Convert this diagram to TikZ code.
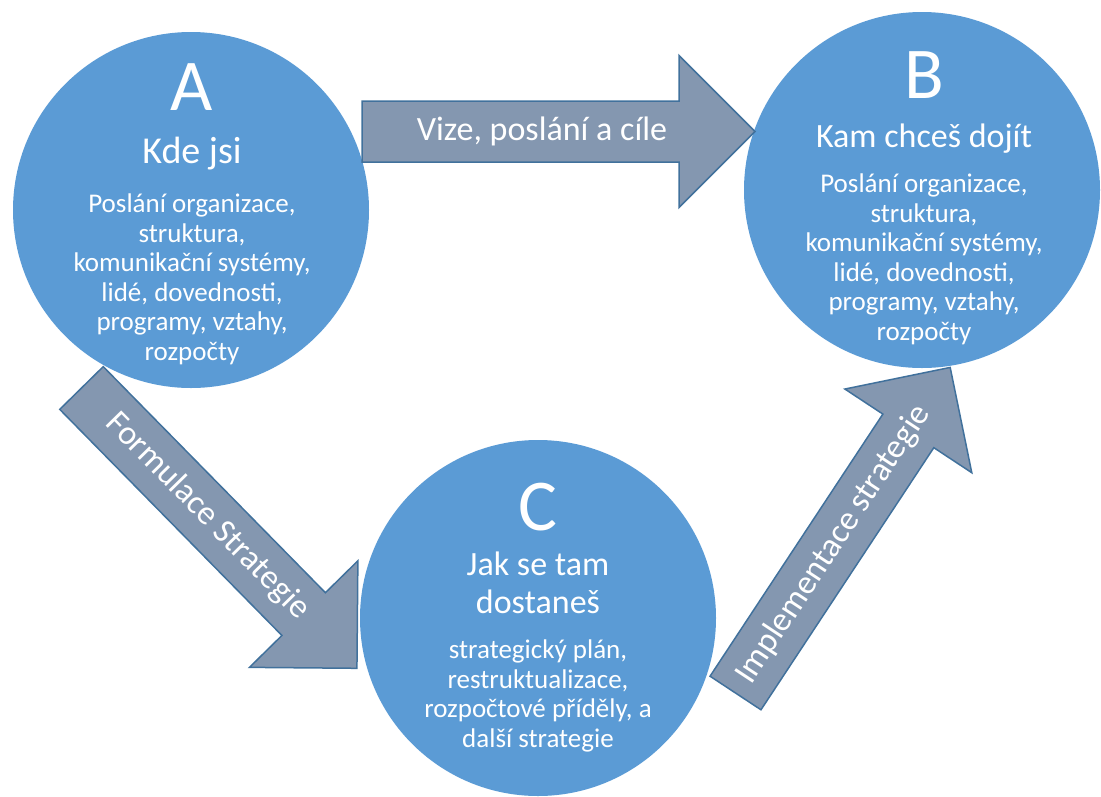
\documentclass[tikz,border=0pt]{standalone}
\usepackage{fontspec}
\setmainfont{Carlito}
\usepackage{tikz}
\usetikzlibrary{calc}
\definecolor{circ}{HTML}{5B9BD5}
\definecolor{arr}{HTML}{8497B0}
\definecolor{arredge}{HTML}{41719C}
\tikzset{
  stage/.style={circle, fill=circ, minimum size=356pt, inner sep=0pt},
  blockarr/.style={fill=arr, draw=arredge, line width=1.5pt, line join=miter},
  letter/.style={text=white, font=\fontsize{73}{80}\selectfont, anchor=base, inner sep=0pt},
  head/.style={text=white, font=\fontsize{34}{38}\selectfont, anchor=base, align=center, inner sep=0pt},
  body/.style={text=white, font=\fontsize{27}{29.5}\selectfont, anchor=base, align=center, inner sep=0pt},
  arrlab/.style={text=white, font=\fontsize{34}{36}\selectfont, inner sep=0pt},
}
% block arrow along +x, tail at origin, length #1
\newcommand{\blockarrow}[1]{%
  \draw[blockarr] (0,-30.5) -- (#1-76,-30.5) -- (#1-76,-76) -- (#1,0)
    -- (#1-76,76) -- (#1-76,30.5) -- (0,30.5) -- cycle;}

\begin{document}
\begin{tikzpicture}[x=1pt, y=-1pt]
  \useasboundingbox (0,0) rectangle (1101,796);

  \node[stage] (A) at (191,210) {};
  \node[stage] (B) at (922,190) {};
  \node[stage] (C) at (538,618) {};

  % A (multi-line nodes sit on their last baseline)
  \node[letter] (A-letter) at (192,110) {A};
  \node[head, font=\fontsize{38}{40}\selectfont] (A-head) at (192,163) {Kde jsi};
  \node[body] (A-body) at (192,360) {Poslání organizace,\\ struktura,\\ komunikační systémy,\\
    lidé, dovednosti,\\ programy, vztahy,\\ rozpočty};

  % B
  \node[letter] (B-letter) at (924,98) {B};
  \node[head] (B-head) at (924,147) {Kam chceš dojít};
  \node[body] (B-body) at (924,340) {Poslání organizace,\\ struktura,\\ komunikační systémy,\\
    lidé, dovednosti,\\ programy, vztahy,\\ rozpočty};

  % C
  \node[letter] (C-letter) at (538,530) {C};
  \node[head] (C-head) at (538,613) {Jak se tam\\ dostaneš};
  \node[body] (C-body) at (538,747) {strategický plán,\\ restruktualizace,\\
    rozpočtové příděly, a\\ další strategie};

  % A -> B
  \begin{scope}[shift={(362,131.5)}]
    \blockarrow{393}
    \node[arrlab] (vize) at (180,0) {Vize, poslání a cíle};
  \end{scope}

  % A -> C
  \begin{scope}[shift={(81.5,388)}, rotate=-45.5]
    \blockarrow{393}
    \node[arrlab, rotate=-45.5] (formulace) at (180,0) {Formulace Strategie};
  \end{scope}

  % C -> B
  \begin{scope}[shift={(735.5,693)}, rotate=56.6]
    \blockarrow{390}
    \node[arrlab, rotate=56.6] (impl) at (178,0) {Implementace strategie};
  \end{scope}
\end{tikzpicture}
\end{document}
